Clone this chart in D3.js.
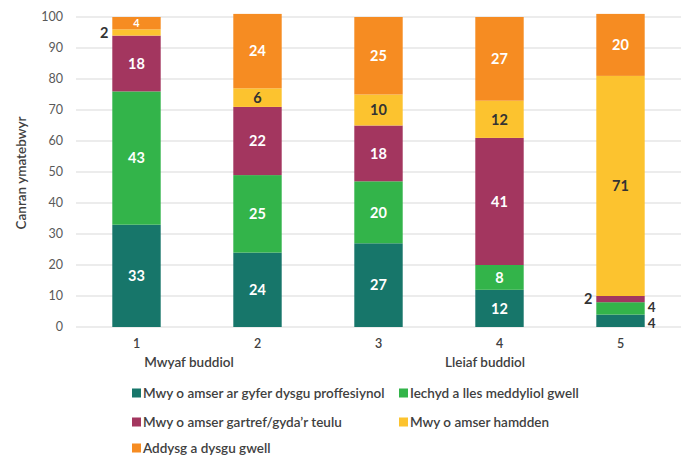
<!DOCTYPE html>
<html><head><meta charset="utf-8">
<script src="https://cdn.jsdelivr.net/npm/d3@7"></script>
<style>body{margin:0;background:#fff;}svg{display:block;font-family:"Source Sans Pro",Lato,"Open Sans",sans-serif;}</style>
</head><body><svg id="c" width="686" height="456"></svg>
<script>
const categories = ["1","2","3","4","5"];
const seriesNames = ["Mwy o amser ar gyfer dysgu proffesiynol","Iechyd a lles meddyliol gwell","Mwy o amser gartref/gyda’r teulu","Mwy o amser hamdden","Addysg a dysgu gwell"];
const colors = ["#17766a","#33b44a","#a3365f","#fcc32f","#f68c22"];
const professional = [33,24,27,12,4];
const wellbeing = [43,25,20,8,4];
const family = [18,22,18,41,2];
const leisure = [2,6,10,12,71];
const education = [4,24,25,27,20];
const yTicks = [0,10,20,30,40,50,60,70,80,90,100];
const series = [professional, wellbeing, family, leisure, education];

const svg = d3.select("#c");
const x = d3.scaleBand().domain(categories).range([76,681]).paddingInner(0.6).paddingOuter(0.3);
const y = d3.scaleLinear().domain([0,100]).range([327,17]);

svg.append("g").selectAll("line").data(yTicks).join("line")
  .attr("x1",76).attr("x2",681).attr("y1",d=>y(d)).attr("y2",d=>y(d))
  .attr("stroke","#d9d9d9").attr("stroke-width",1);
svg.append("g").selectAll("text").data(yTicks).join("text")
  .attr("x",63).attr("y",d=>y(d)+4).attr("text-anchor","end")
  .attr("font-size",12.5).attr("fill","#595959").text(d=>d);
svg.append("g").selectAll("text").data(categories).join("text")
  .attr("x",d=>x(d)+x.bandwidth()/2).attr("y",348).attr("text-anchor","middle")
  .attr("font-size",12.5).attr("font-weight","600").attr("fill","#404040").text(d=>d);
svg.append("text").attr("x",189).attr("y",367).attr("text-anchor","middle").attr("font-size",13.5).attr("font-weight","600").attr("fill","#404040").text("Mwyaf buddiol");
svg.append("text").attr("x",485).attr("y",367).attr("text-anchor","middle").attr("font-size",13.5).attr("font-weight","600").attr("fill","#404040").text("Lleiaf buddiol");
svg.append("text").attr("transform","translate(26,173) rotate(-90)").attr("text-anchor","middle")
  .attr("font-size",13.5).attr("font-weight","600").attr("fill","#404040").text("Canran ymatebwyr");

const rows = categories.map((c,i)=>{const o={cat:c};seriesNames.forEach((s,j)=>o[s]=series[j][i]);return o;});
const stack = d3.stack().keys(seriesNames)(rows);
stack.forEach((layer,j)=>{
  const g = svg.append("g");
  g.selectAll("rect").data(layer).join("rect")
    .attr("x",d=>x(d.data.cat)).attr("width",x.bandwidth())
    .attr("y",d=>y(d[1])).attr("height",d=>y(d[0])-y(d[1]))
    .attr("fill",colors[j]);
  layer.forEach((d,i)=>{
    const v = d[1]-d[0];
    const cx = x(d.data.cat)+x.bandwidth()/2;
    let cy = (y(d[0])+y(d[1]))/2;
    let tx=cx, anchor="middle", fill = j===3 ? "#333333" : "#ffffff", fs=14.5;
    if (v<=4 && j!==4) {
      fill="#333333";
      if (j===0 || j===1) { tx = x(d.data.cat)+x.bandwidth()+3; anchor="start"; cy += (j===0?2:-1.5); fs=13.5; }
      else { tx = x(d.data.cat)-4; anchor="end"; }
    }
    if (j===4 && v<=4) fs=11;
    g.append("text").attr("x",tx).attr("y",cy).attr("dy","0.36em").attr("text-anchor",anchor)
      .attr("font-size",fs).attr("font-weight","bold").attr("fill",fill).text(v);
  });
});

const legPos = [[132,393],[399,393],[132,422],[399,422],[132,448]];
seriesNames.forEach((s,j)=>{
  const [lx,ly]=legPos[j];
  svg.append("rect").attr("x",lx).attr("y",ly-4.5).attr("width",9).attr("height",9).attr("fill",colors[j]);
  svg.append("text").attr("x",lx+11).attr("y",ly+4.5).attr("font-size",13.5).attr("font-weight","600").attr("fill","#404040").text(s);
});
</script></body></html>
